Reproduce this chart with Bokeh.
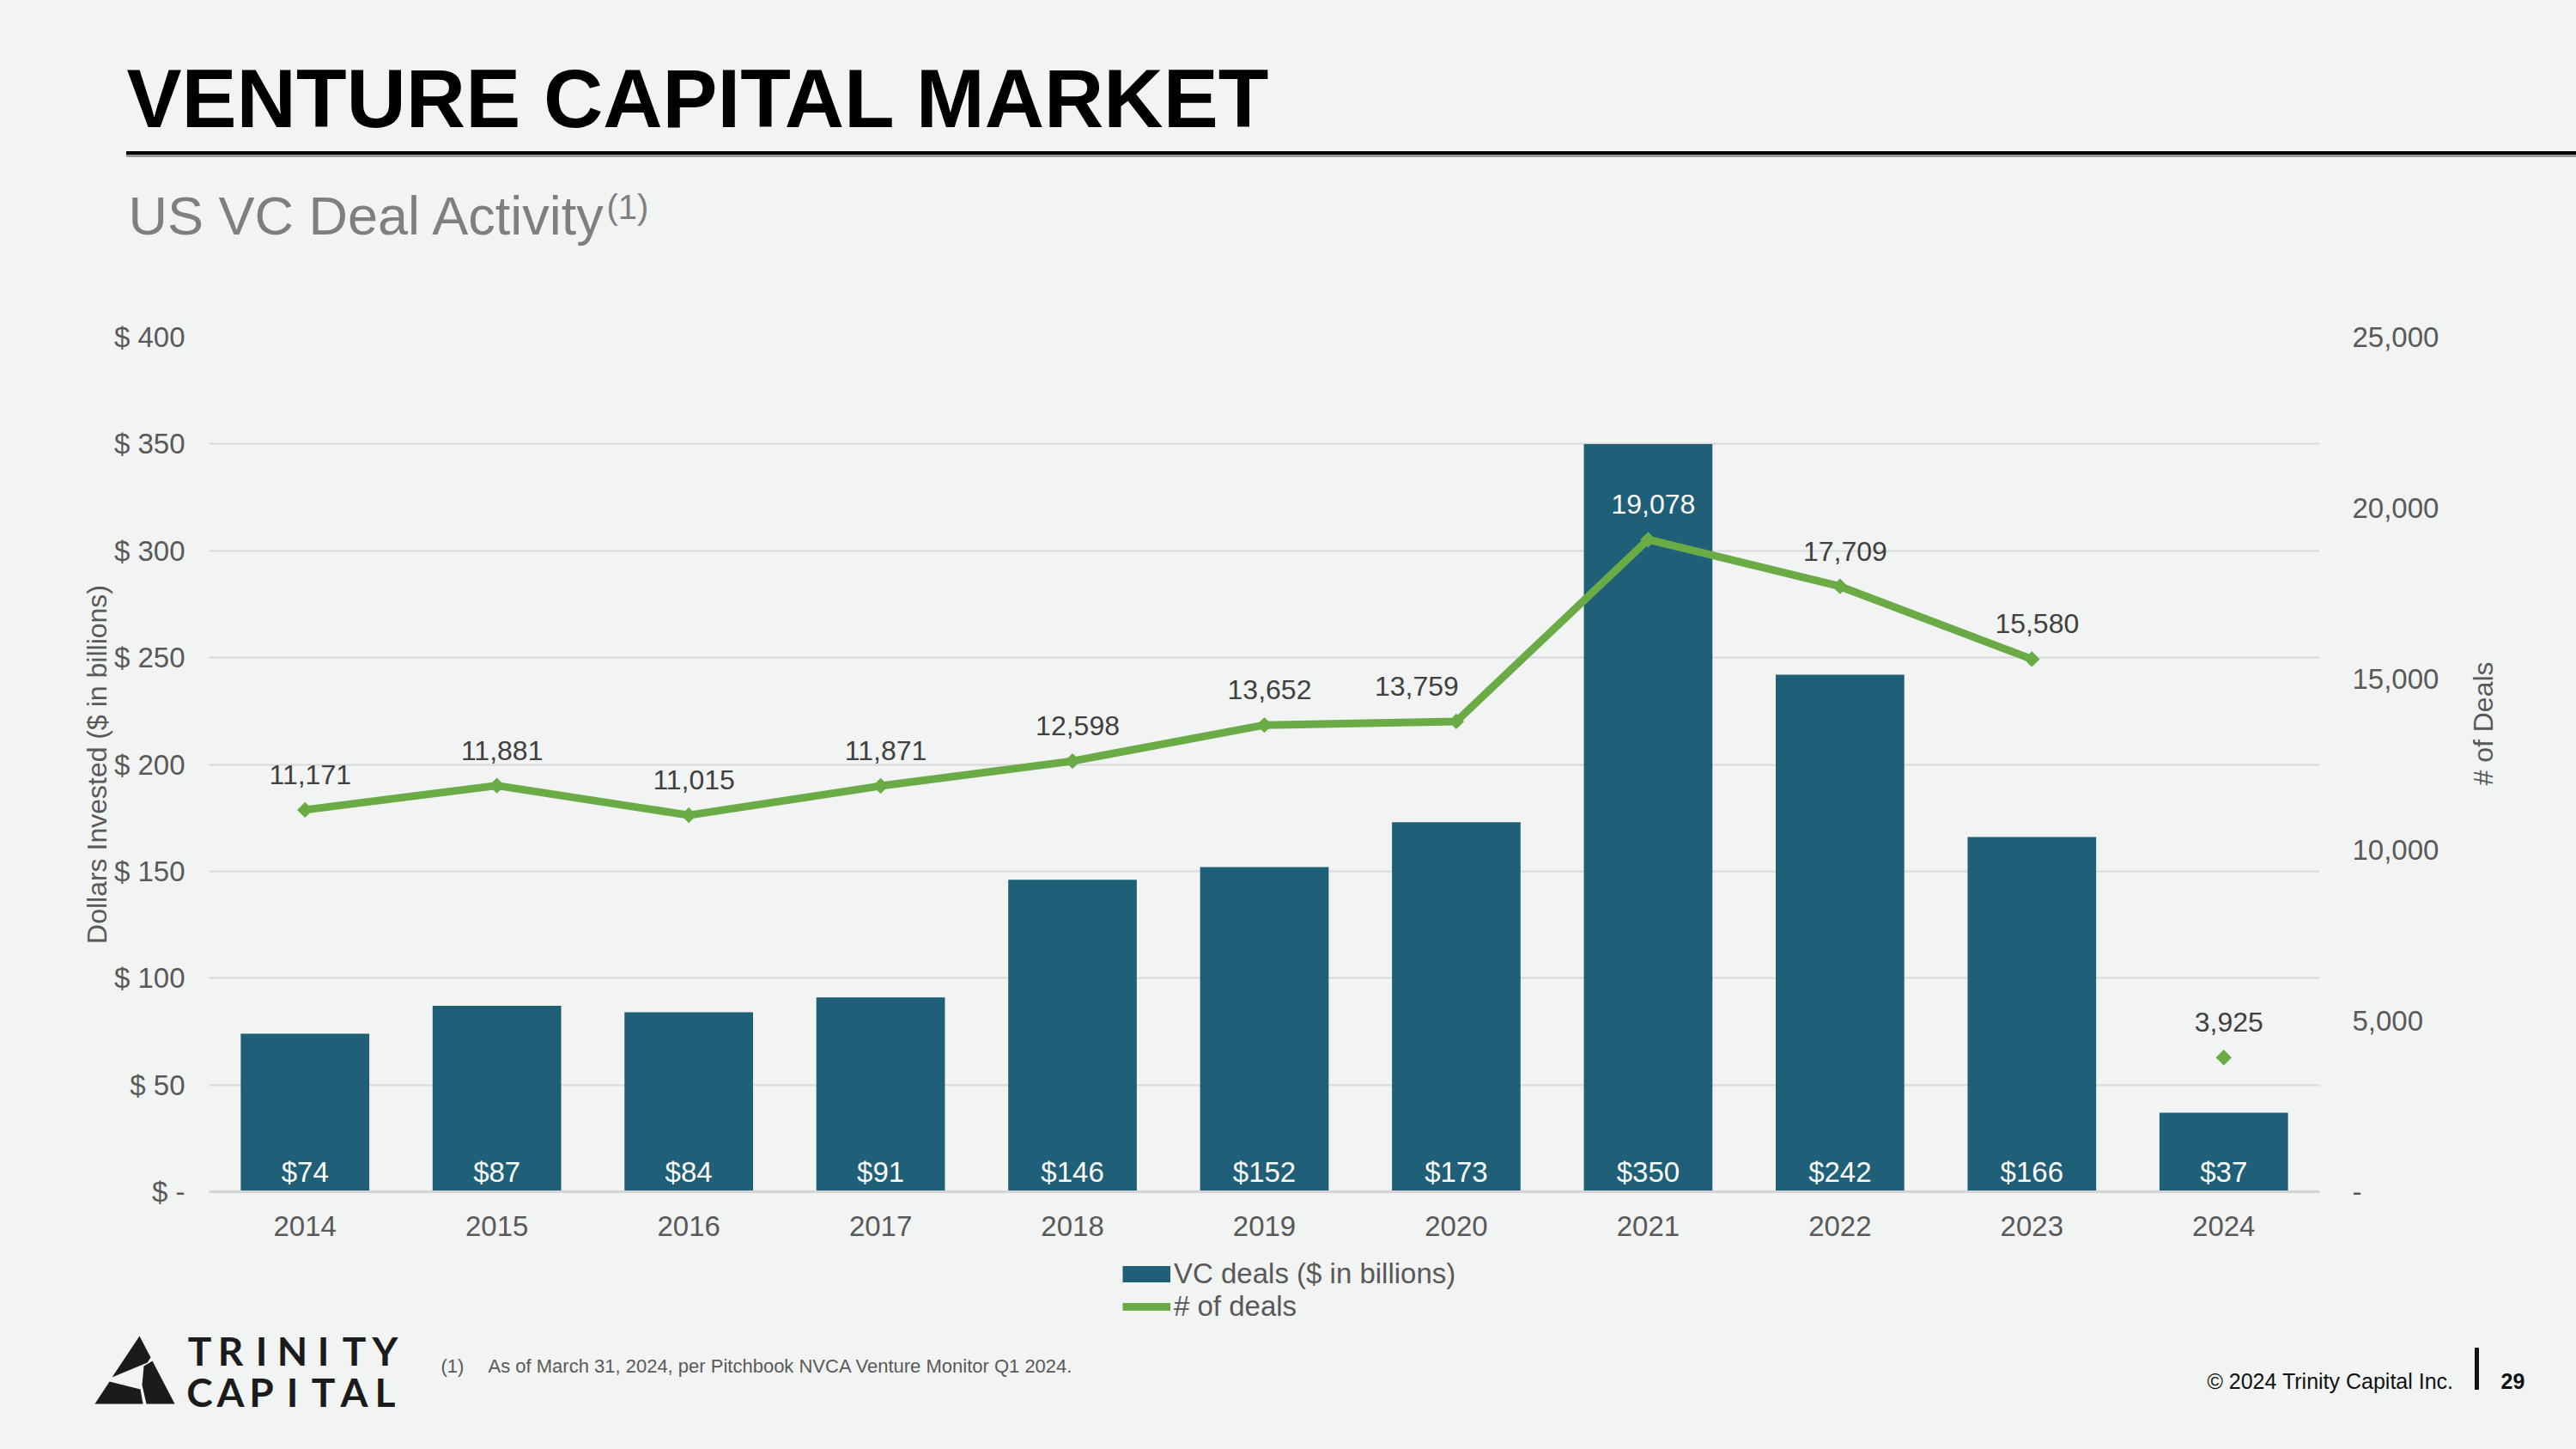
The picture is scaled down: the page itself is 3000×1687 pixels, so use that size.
import numpy as np
from bokeh.plotting import figure
from bokeh.layouts import column, row
from bokeh.models import (Range1d, LinearAxis, FixedTicker, ColumnDataSource, Label,
                          Legend, LegendItem)
from bokeh.core.properties import value
from bokeh.embed import file_html
from bokeh.resources import INLINE

# ---- data -------------------------------------------------------------
years = ["2014", "2015", "2016", "2017", "2018", "2019", "2020", "2021", "2022", "2023", "2024"]
invested = [74, 87, 84, 91, 146, 152, 173, 350, 242, 166, 37]          # $ billions
deals = [11171, 11881, 11015, 11871, 12598, 13652, 13759, 19078, 17709, 15580, 3925]
dollar_ticks = [0, 50, 100, 150, 200, 250, 300, 350, 400]
deal_ticks = [0, 5000, 10000, 15000, 20000, 25000]

# ---- page geometry / styling -----------------------------------------
W, H = 3000, 1687
HEAD_B = 360                 # header strip: page y 0 .. 360
FOOT_T = 1460                # footer strip (legend, notes, logo): page y 1460 .. 1687
CHART_W = 2860               # chart figure width; a narrow strip sits to its right
FL, FR, FT, FB = 243, 2701, 392, 1387          # plot frame edges (page px)
FONT = "Liberation Sans"
BAR = "#1f5f78"
GREEN = "#6aab46"
GREY = "#595959"
BG = "#f2f3f3"


def py(y):
    """Page y measured from the top -> upward coordinate."""
    return H - y


def style(f):
    f.title.visible = False
    f.outline_line_color = None
    f.background_fill_color = BG
    f.border_fill_color = BG
    return f


def blank(x0, x1, y0, y1, **kw):
    """Axis-less figure whose data units are page pixels."""
    opts = dict(min_border=0)
    opts.update(kw)
    f = figure(width=x1 - x0, height=y1 - y0, x_range=Range1d(x0, x1),
               y_range=Range1d(py(y1), py(y0)), output_backend="svg",
               toolbar_location=None, x_axis_location=None, y_axis_location=None, **opts)
    f.grid.visible = False
    return style(f)


def put(f, x, y, text, **kw):
    """Text centred vertically on page y."""
    opts = dict(text_font=FONT, text_color=GREY, text_baseline="middle")
    opts.update(kw)
    f.add_layout(Label(x=x, y=py(y), text=text, **opts))


# ---- header -----------------------------------------------------------
head = blank(0, W, 0, HEAD_B)
put(head, 147, 114, "VENTURE CAPITAL MARKET", text_color="black",
    text_font_size="96px", text_font_style="bold")
head.quad(left=147, right=W, top=py(176), bottom=py(180), color="black")
head.quad(left=147, right=W, top=py(180), bottom=py(182), color="#9a9a9a")
put(head, 149, 250, "US VC Deal Activity", text_color="#7f7f7f", text_font_size="63px")
put(head, 706, 240, "(1)", text_color="#7f7f7f", text_font_size="40px")

# ---- chart ------------------------------------------------------------
slot = list(range(len(years)))                 # one slot per year on the x axis
TOP_PAD, BOT_PAD = FT - HEAD_B, FOOT_T - FB

p = figure(width=CHART_W, height=FOOT_T - HEAD_B,
           x_range=Range1d(-0.5, len(years) - 0.5),
           y_range=Range1d(0, dollar_ticks[-1]),
           output_backend="svg", toolbar_location=None,
           min_border_left=FL, min_border_right=CHART_W - FR,
           min_border_top=TOP_PAD, min_border_bottom=BOT_PAD)
style(p)
p.extra_y_ranges = {"deals": Range1d(deal_ticks[0], deal_ticks[-1])}

for ax in p.yaxis:
    ax.ticker = FixedTicker(ticks=dollar_ticks)
    ax.major_label_overrides = {t: ("$ -" if t == 0 else f"$ {t}") for t in dollar_ticks}
    ax.axis_label = "Dollars Invested ($ in billions)"
    ax.axis_label_text_font = FONT
    ax.axis_label_text_font_style = "normal"
    ax.axis_label_text_font_size = "32px"
    ax.axis_label_text_color = GREY
    ax.axis_label_standoff = -1
    ax.major_label_standoff = 28

right = LinearAxis(y_range_name="deals", ticker=FixedTicker(ticks=deal_ticks),
                   major_label_overrides={t: ("-" if t == 0 else f"{t:,}") for t in deal_ticks},
                   major_label_standoff=38)
p.add_layout(right, "right")

for ax in p.yaxis + [right]:
    ax.axis_line_color = None
    ax.major_tick_line_color = None
    ax.minor_tick_line_color = None
    ax.major_tick_out = 0
    ax.major_label_text_font = FONT
    ax.major_label_text_font_size = "33px"
    ax.major_label_text_color = GREY

xa = p.xaxis[0]
xa.ticker = FixedTicker(ticks=slot)
xa.major_label_overrides = dict(zip(slot, years))
xa.axis_line_color = "#d4d4d4"
xa.axis_line_width = 3
xa.major_tick_line_color = None
xa.minor_tick_line_color = None
xa.major_tick_out = 0
xa.major_label_standoff = 28
xa.major_label_text_font = FONT
xa.major_label_text_font_size = "33px"
xa.major_label_text_color = GREY

p.xgrid.visible = False
p.ygrid.grid_line_color = "#d9d9d9"
p.ygrid.grid_line_width = 2

# bars with their values printed at the foot of each bar
bar_src = ColumnDataSource(dict(x=slot, invested=invested,
                                label=[f"${v:.0f}" for v in invested]))
p.vbar(x="x", top="invested", width=0.67, source=bar_src, fill_color=BAR, line_color=None)
p.text(x="x", y=0, text="label", source=bar_src, y_offset=-23,
       text_align="center", text_baseline="middle", text_color="white",
       text_font=value(FONT), text_font_size="33px")

# deal count line (2024 is year-to-date, shown as a lone point)
LINE_STYLE = dict(line_color=GREEN, line_width=9, line_join="round")
PT_STYLE = dict(marker="square", angle=np.pi / 4, size=13, fill_color=GREEN, line_color=None)
line_src = ColumnDataSource(dict(x=slot[:-1], deals=deals[:-1]))
p.line(x="x", y="deals", source=line_src, y_range_name="deals", **LINE_STYLE)

LABEL_RISE = 41   # px above the point
scale = dollar_ticks[-1] / deal_ticks[-1]
rise_in_dollars = LABEL_RISE / (FB - FT) * dollar_ticks[-1]
label_colors = ["white" if d * scale + rise_in_dollars < b else "#404040"
                for d, b in zip(deals, invested)]
nudge = {"2020": -46}
pt_src = ColumnDataSource(dict(x=slot, deals=deals,
                               label=[f"{d:,}" for d in deals],
                               color=label_colors,
                               dx=[nudge.get(y, 6) for y in years]))
p.scatter(x="x", y="deals", source=pt_src, y_range_name="deals", **PT_STYLE)
p.text(x="x", y="deals", text="label", source=pt_src, y_range_name="deals",
       x_offset="dx", y_offset=-LABEL_RISE, text_align="center", text_baseline="middle",
       text_color="color", text_font=value(FONT), text_font_size="32px")

# right-hand axis title, reading bottom to top (same vertical frame as the chart)
side = blank(CHART_W, W, HEAD_B, FOOT_T, min_border_top=TOP_PAD, min_border_bottom=BOT_PAD)
side.y_range = Range1d(py(FB), py(FT))
put(side, 2891, 842, "# of Deals", angle=np.pi / 2, text_align="center",
    text_font_size="32px")

# ---- footer: legend, footnote, logo -----------------------------------
foot = blank(0, W, FOOT_T, H)

# legend swatches styled like the chart's series (a single NaN row, so nothing is plotted)
nothing = dict(x=[np.nan], y=[np.nan])
sw_bar = foot.line(x="x", y="y", source=ColumnDataSource(nothing),
                   line_color=BAR, line_width=19, line_cap="butt")
sw_line = foot.line(x="x", y="y", source=ColumnDataSource(nothing), **LINE_STYLE)
sw_pt = foot.scatter(x="x", y="y", source=ColumnDataSource(nothing), **PT_STYLE)
legend = Legend(items=[LegendItem(label="VC deals ($ in billions)", renderers=[sw_bar]),
                       LegendItem(label="# of deals", renderers=[sw_line, sw_pt])],
                location=(1307, 147), orientation="vertical",
                glyph_width=56, glyph_height=20, label_standoff=4, spacing=-15,
                padding=0, margin=0, border_line_color=None, background_fill_alpha=0,
                label_text_font=FONT, label_text_font_size="33px", label_text_color=GREY)
foot.add_layout(legend)

put(foot, 513, 1590, "(1)", text_font_size="22px")
put(foot, 568, 1590, "As of March 31, 2024, per Pitchbook NVCA Venture Monitor Q1 2024.",
    text_font_size="22px")
put(foot, 2857, 1607, "\u00a9 2024 Trinity Capital Inc.", text_align="right",
    text_color="#111111", text_font_size="25px")
foot.quad(left=2882, right=2886, top=py(1569), bottom=py(1617), color="#111111")
put(foot, 2912, 1607, "29", text_color="#111111", text_font_size="25px",
    text_font_style="bold")

# logo: split triangle mark plus tracked wordmark
LOGO = "#1b1b1b"
mark = [([162, 130, 171, 175], [1555, 1603, 1586, 1580]),
        ([127, 163, 166, 110], [1608, 1617, 1634, 1634]),
        ([167, 177, 203, 170, 165], [1590, 1584, 1634, 1634, 1612])]
foot.patches(xs=[m[0] for m in mark], ys=[[py(v) for v in m[1]] for m in mark],
             fill_color=LOGO, line_color=None)
for word, yc in (("TRINITY", 1572), ("CAPITAL", 1620)):
    for i, ch in enumerate(word):
        put(foot, 232 + 36 * i, yc, ch, text_align="center", text_font="Lato",
            text_font_size="46px", text_font_style="bold", text_color=LOGO)

page = column(head, row(p, side, spacing=0), foot, spacing=0)
html = file_html(page, INLINE)
html = html.replace("<head>", "<head><style>html,body{margin:0;padding:0;background:%s;}</style>" % BG, 1)
open("out.html", "w").write(html)
